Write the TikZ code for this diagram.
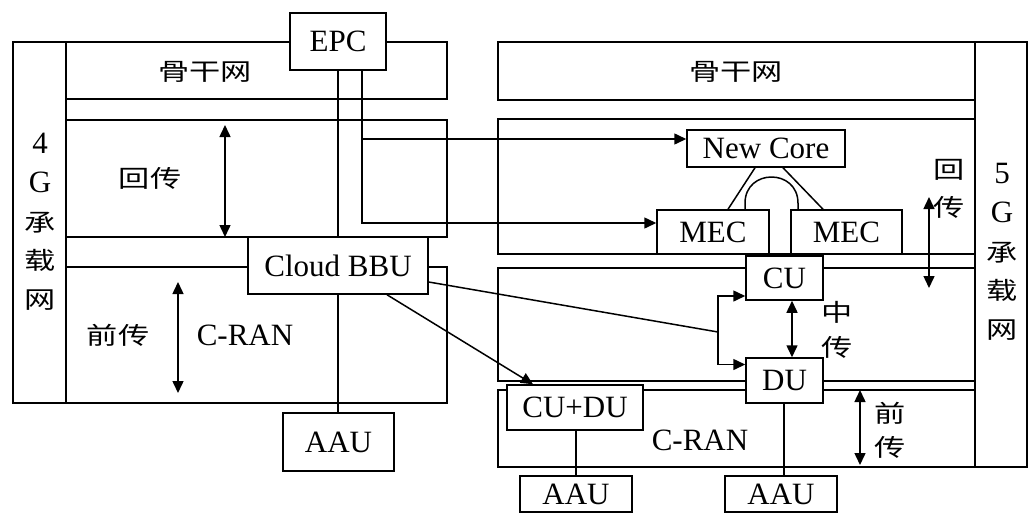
\documentclass[tikz,border=0pt]{standalone}
\usepackage{fontspec}
\setmainfont{Liberation Serif}
\newfontfamily\cjk[FakeStretch=1.3]{Noto Sans CJK SC}
\usetikzlibrary{arrows.meta,calc}
\newcommand{\zch}[1]{{\cjk\fontsize{24}{38.7}\selectfont #1}}
\begin{document}
\begin{tikzpicture}[x=1pt,y=-1pt,
  ln/.style={line width=1.5pt, draw=black},
  box/.style={ln, fill=white, inner sep=0pt, font=\fontsize{31}{36}\selectfont},
  arr/.style={ln, -{Triangle[length=12pt,width=11pt]}},
  darr/.style={ln, {Triangle[length=12pt,width=11pt]}-{Triangle[length=12pt,width=11pt]}},
  zh/.style={inner sep=0pt, font=\cjk\fontsize{24}{38}\selectfont},
  lat/.style={inner sep=0pt, font=\fontsize{31}{36}\selectfont},
  vert/.style={inner sep=0pt, align=center, font=\fontsize{31}{38.7}\selectfont}
]
\useasboundingbox (0,0) rectangle (1035,517);

% ---------- 4G bands ----------
\draw[ln] (13,42) rectangle (66,403);
\draw[ln] (66,42) rectangle (447,99);
\draw[ln] (66,120) rectangle (447,237);
\draw[ln] (66,267) rectangle (447,403);

% ---------- 5G bands ----------
\draw[ln] (498,42) rectangle (975,100);
\draw[ln] (498,119) rectangle (975,254);
\draw[ln] (498,268) rectangle (975,381);
\draw[ln] (498,390) rectangle (975,467);
\draw[ln] (975,42) rectangle (1027,467);

% ---------- nodes ----------
\node[box, minimum width=96pt, minimum height=57pt] (EPC) at (338,41.5) {EPC};
\node[box, minimum width=180pt, minimum height=57pt] (BBU) at (338,265.5) {Cloud BBU};
\node[box, minimum width=111pt, minimum height=58pt] (AAUa) at (338.5,442) {AAU};
\node[box, minimum width=158pt, minimum height=37pt] (NC) at (766,148.5) {New Core};
\node[box, minimum width=112pt, minimum height=44pt] (MECa) at (713,232) {MEC};
\node[box, minimum width=111pt, minimum height=44pt] (MECb) at (846.5,232) {MEC};
\node[box, minimum width=77pt, minimum height=44pt] (CU) at (784.5,278) {CU};
\node[box, minimum width=77pt, minimum height=45pt] (DU) at (784.5,380.5) {DU};
\node[box, minimum width=136pt, minimum height=45pt] (CUDU) at (575,407.5) {CU+DU};
\node[box, minimum width=112pt, minimum height=36pt] (AAUb) at (576,494) {AAU};
\node[box, minimum width=112pt, minimum height=36pt] (AAUc) at (781,494) {AAU};

% ---------- connectors ----------
\draw[ln] (EPC.south) -- (EPC.south |- BBU.north);
\draw[ln] (BBU.south) -- (BBU.south |- AAUa.north);
\coordinate (e1) at ([xshift=24pt]EPC.south);
\draw[arr] (e1) |- ([yshift=9.5pt]NC.west);
\draw[arr] (e1) |- ([yshift=9pt]MECa.west);

\coordinate (br) at (718,332);
\draw[ln] ([yshift=-16.5pt]BBU.east) -- (br);
\draw[arr] (br) |- ([yshift=-18pt]CU.west);
\draw[arr] (br) |- ([yshift=16pt]DU.west);
\draw[arr] ([xshift=49pt]BBU.south) -- ([xshift=-42pt]CUDU.north);
\draw[darr] ([xshift=7.5pt]CU.south) -- ([xshift=7.5pt]DU.north);

\draw[ln] ([xshift=-11pt]NC.south) -- ([xshift=15pt]MECa.north);
\draw[ln] ([xshift=17pt]NC.south) -- ([xshift=-23.5pt]MECb.north);
\coordinate (a1) at ([xshift=32pt]MECa.north);
\coordinate (a2) at ([xshift=-48.5pt]MECb.north);
\draw[ln] (a1) -- ($(a1)+(0,-6)$) .. controls ($(a1)+(0,-41)$) and ($(a2)+(0,-41)$) .. ($(a2)+(0,-6)$) -- (a2);

\draw[ln] (AAUb.north |- CUDU.south) -- (AAUb.north);
\draw[ln] ([xshift=-0.5pt]DU.south) -- ([xshift=-0.5pt]DU.south |- AAUc.north);

% ---------- span arrows ----------
\coordinate (bh4t) at (225,125); \coordinate (bh4b) at (225,237);
\draw[darr] (bh4t) -- (bh4b);
\coordinate (fh4t) at (178,282); \coordinate (fh4b) at (178,393);
\draw[darr] (fh4t) -- (fh4b);
\coordinate (bh5t) at (929,197); \coordinate (bh5b) at (929,288);
\draw[darr] (bh5t) -- (bh5b);
\coordinate (fh5t) at (860,390); \coordinate (fh5b) at (860,465);
\draw[darr] (fh5t) -- (fh5b);

% ---------- labels ----------
\node[zh] (bb4) at (205,72) {骨干网};
\node[zh] (bb5) at (736,72) {骨干网};
\node[zh] (hc4) at (150,178) {回传};
\node[zh] (qc4) at (118,335) {前传};
\node[lat] (cr4) at (245,335) {C-RAN};
\node[lat] (cr5) at (700,440) {C-RAN};
\node[vert] (g4) at (40,222) {4\\G\\\zch{承}\\\zch{载}\\\zch{网}};
\node[vert] (g5) at (1002,252) {5\\G\\\zch{承}\\\zch{载}\\\zch{网}};
\node[zh, align=center, font=\cjk\fontsize{24}{38}\selectfont] (hc5) at (949,189) {回\\传};
\node[zh, align=center, font=\cjk\fontsize{24}{35}\selectfont] (zc5) at (837,329.5) {中\\传};
\node[zh, align=center, font=\cjk\fontsize{24}{34}\selectfont] (qc5) at (890,430) {前\\传};
\end{tikzpicture}
\end{document}
